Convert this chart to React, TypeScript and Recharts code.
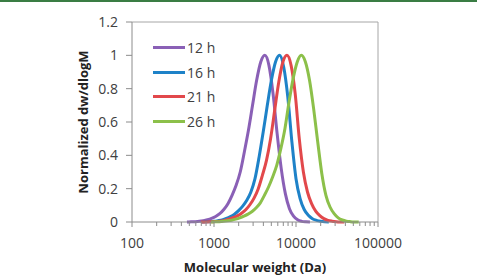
import { Legend, Line, LineChart, ReferenceLine, XAxis, YAxis } from "recharts";

// GPC traces, normalized dw/dlogM against molecular weight (Da)
const mw12h = [468, 525, 589, 661, 741, 832, 933, 1047, 1175, 1318, 1479, 1660, 1862, 2089, 2344, 2630, 2951, 3311, 3715, 4169, 4677, 5248, 5888, 6607, 7413, 8318, 9333, 10471, 11749, 13183, 14791];
const dw12h = [0, 0.001, 0.002, 0.004, 0.008, 0.014, 0.022, 0.033, 0.05, 0.075, 0.11, 0.16, 0.22, 0.3, 0.42, 0.55, 0.7, 0.85, 0.96, 1, 0.94, 0.77, 0.53, 0.32, 0.17, 0.08, 0.035, 0.013, 0.004, 0.001, 0];

const mw16h = [708, 794, 891, 1000, 1122, 1259, 1413, 1585, 1778, 1995, 2239, 2512, 2818, 3162, 3548, 3981, 4467, 5012, 5623, 6310, 7079, 7943, 8913, 10000, 11220, 12589, 14125, 15849, 17783, 19953, 22387, 25119];
const dw16h = [0, 0.001, 0.002, 0.004, 0.008, 0.013, 0.021, 0.032, 0.047, 0.068, 0.095, 0.13, 0.18, 0.26, 0.39, 0.54, 0.7, 0.85, 0.96, 1, 0.93, 0.75, 0.48, 0.26, 0.14, 0.075, 0.04, 0.02, 0.01, 0.004, 0.001, 0];

const mw21h = [692, 776, 871, 977, 1096, 1230, 1380, 1549, 1738, 1950, 2188, 2455, 2754, 3090, 3467, 3890, 4365, 4898, 5495, 6166, 6918, 7762, 8710, 9772, 10965, 12303, 13804, 15488, 17378, 19498, 21878, 24547, 27542, 30903, 34674, 38905];
const dw21h = [0, 0.0005, 0.001, 0.002, 0.003, 0.006, 0.011, 0.018, 0.027, 0.038, 0.054, 0.075, 0.105, 0.145, 0.2, 0.28, 0.37, 0.5, 0.67, 0.84, 0.96, 1, 0.94, 0.77, 0.5, 0.3, 0.18, 0.11, 0.065, 0.038, 0.02, 0.01, 0.005, 0.002, 0.0005, 0];

const mw26h = [923, 1035, 1161, 1303, 1462, 1641, 1841, 2065, 2317, 2600, 2917, 3273, 3673, 4121, 4624, 5188, 5821, 6531, 7328, 8222, 9226, 10351, 11614, 13032, 14622, 16406, 18408, 20654, 23174, 26002, 29174, 32734, 36728, 41210, 46238, 51880, 58210];
const dw26h = [0, 0.001, 0.002, 0.004, 0.007, 0.011, 0.017, 0.025, 0.035, 0.047, 0.063, 0.085, 0.115, 0.16, 0.21, 0.27, 0.34, 0.44, 0.56, 0.72, 0.86, 0.96, 1, 0.96, 0.85, 0.68, 0.48, 0.29, 0.16, 0.09, 0.05, 0.025, 0.012, 0.005, 0.002, 0.0005, 0];

const majorTicks = [100, 1000, 10000, 100000];
const minorTicks = [200, 300, 400, 500, 600, 700, 800, 900, 2000, 3000, 4000, 5000, 6000, 7000, 8000, 9000, 20000, 30000, 40000, 50000, 60000, 70000, 80000, 90000];
const yTicks = [0, 0.2, 0.4, 0.6, 0.8, 1, 1.2];

const toPoints = (mw: number[], dw: number[]) => mw.map((m, i) => ({ mw: m, dw: dw[i] }));

const series = [
  { name: "12 h", color: "#8a60b6", data: toPoints(mw12h, dw12h) },
  { name: "16 h", color: "#1e82c8", data: toPoints(mw16h, dw16h) },
  { name: "21 h", color: "#e2484b", data: toPoints(mw21h, dw21h) },
  { name: "26 h", color: "#8cc04a", data: toPoints(mw26h, dw26h) },
];

const AXIS = "#8c8c8c";
const TEXT = "#404040";

const LogTick = ({ x, y, payload }: any) => {
  const major = majorTicks.includes(payload.value);
  return (
    <g>
      <line x1={x} x2={x} y1={y} y2={y + (major ? 5 : 4)} stroke={AXIS} />
      {major && (
        <text x={x} y={y + 26} textAnchor="middle" fill={TEXT} fontSize={14}>
          {payload.value}
        </text>
      )}
    </g>
  );
};

export default function App() {
  return (
    <div
      style={{
        position: "absolute",
        left: 0,
        top: 0,
        width: 485,
        height: 276,
        background: "#fff",
        fontFamily: "'Open Sans', sans-serif",
      }}
    >
      <div style={{ position: "absolute", left: 0, top: 0, width: 477, height: 2, background: "#3a7d44" }} />
      <LineChart width={485} height={276} margin={{ top: 22, right: 107, bottom: 0, left: 0 }}>
        <XAxis
          dataKey="mw"
          type="number"
          scale="log"
          domain={[100, 100000]}
          ticks={[...majorTicks, ...minorTicks]}
          interval={0}
          height={54}
          tickSize={0}
          tickMargin={0}
          tick={<LogTick />}
          stroke={AXIS}
          allowDataOverflow
          label={{
            value: "Molecular weight (Da)",
            position: "insideBottom",
            offset: 4,
            fill: "#222",
            fontSize: 13,
            fontWeight: 700,
          }}
        />
        <YAxis
          type="number"
          domain={[0, 1.2]}
          ticks={yTicks}
          width={132}
          tickSize={6}
          tickMargin={8}
          stroke={AXIS}
          tick={{ fill: TEXT, fontSize: 14 }}
          label={{
            value: "Normalized dw/dlogM",
            angle: -90,
            position: "insideLeft",
            offset: 83,
            fill: "#222",
            fontSize: 13,
            fontWeight: 700,
            style: { textAnchor: "middle" },
          }}
        />
        <ReferenceLine y={1.2} stroke="#a6a6a6" />
        <ReferenceLine x={100000} stroke="#a6a6a6" />
        {series.map((s) => (
          <Line
            key={s.name}
            data={s.data}
            dataKey="dw"
            name={s.name}
            type="monotone"
            stroke={s.color}
            strokeWidth={3}
            dot={false}
            isAnimationActive={false}
          />
        ))}
        <Legend
          layout="horizontal"
          verticalAlign="middle"
          align="center"
          wrapperStyle={{ left: 153, top: 35, width: 90, height: 100 }}
          content={({ payload }) => (
            <div>
              {payload?.map((item: any) => (
                <div key={item.value} style={{ display: "flex", alignItems: "center", height: 24.7 }}>
                  <span style={{ width: 32, height: 3, background: item.color }} />
                  <span style={{ marginLeft: 2, fontSize: 14, color: TEXT }}>{item.value}</span>
                </div>
              ))}
            </div>
          )}
        />
      </LineChart>
    </div>
  );
}
